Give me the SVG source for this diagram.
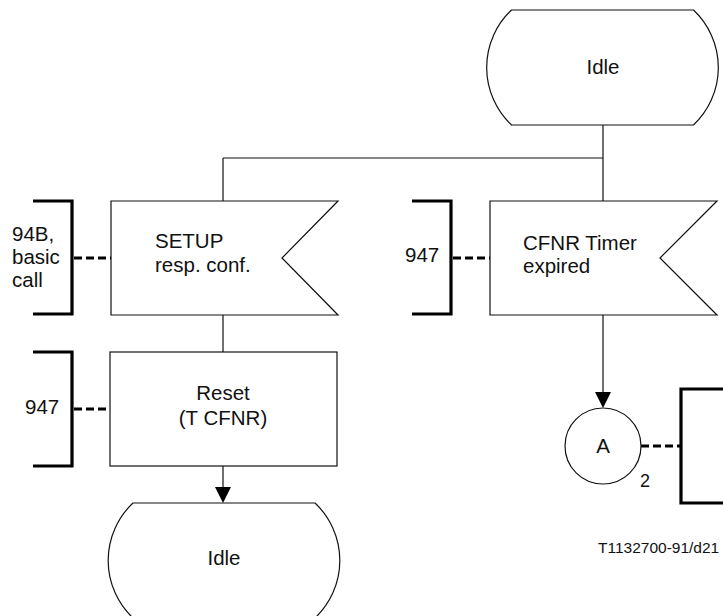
<svg xmlns="http://www.w3.org/2000/svg" width="723" height="616" viewBox="0 0 723 616">
<defs>
<style>
.s{fill:#fff;stroke:#111;stroke-width:1.2}
.ln{fill:none;stroke:#111;stroke-width:1.2}
.br{fill:none;stroke:#000;stroke-width:3.2}
.da{fill:none;stroke:#000;stroke-width:3.2;stroke-dasharray:8 4}
text{font-family:"Liberation Sans",Arial,sans-serif;font-size:20.5px;fill:#111}
.c{text-anchor:middle}
</style>
<path id="state" d="M-91,0 L91,0 A79,79 0 0 1 91,115 L-91,115 A79,79 0 0 1 -91,0 Z"/>
</defs>
<g id="connectors">
<path class="ln" d="M603,125 V158 M223,158 H603 M223,158 V201 M603,158 V201 M223,315 V352"/>
<path class="ln" d="M223,466 V488"/>
<polygon points="215,487 231,487 223,503" fill="#000"/>
<path class="ln" d="M603,315 V393"/>
<polygon points="595,392 611,392 603,408" fill="#000"/>
<path class="da" d="M74,258 H111 M453,258 H490 M74,409 H110 M641,446 H681"/>
</g>
<g id="idle-top">
<use href="#state" class="s" transform="translate(602.5,10)"/>
<text class="c" x="603" y="74">Idle</text>
</g>
<g id="setup">
<path class="s" d="M111,201 H338 L282,258 L338,315 H111 Z"/>
<text x="155" y="248">SETUP</text>
<text x="155" y="272">resp. conf.</text>
</g>
<g id="ref-94b">
<path class="br" d="M33,201 H72 V314 H33"/>
<text x="12" y="241">94B,</text>
<text x="12" y="264">basic</text>
<text x="12" y="287">call</text>
</g>
<g id="cfnr">
<path class="s" d="M490,201 H717 L660,258 L717,315 H490 Z"/>
<text x="523" y="250">CFNR Timer</text>
<text x="523" y="273">expired</text>
</g>
<g id="ref-947a">
<path class="br" d="M412,201 H451 V314 H412"/>
<text x="405" y="262">947</text>
</g>
<g id="reset">
<rect class="s" x="110" y="352" width="227" height="114"/>
<text class="c" x="223" y="400">Reset</text>
<text class="c" x="223" y="425">(T CFNR)</text>
</g>
<g id="ref-947b">
<path class="br" d="M33,352 H72 V466 H33"/>
<text x="25" y="414">947</text>
</g>
<g id="idle-bottom">
<use href="#state" class="s" transform="translate(224,503)"/>
<text class="c" x="224" y="565">Idle</text>
</g>
<g id="connector-a">
<circle class="s" cx="603" cy="446" r="38"/>
<text class="c" x="603" y="453">A</text>
<text x="640" y="487" style="font-size:18px">2</text>
</g>
<g id="ref-a">
<path class="br" d="M725,389 H681 V503 H725"/>
</g>
<g id="footer">
<text x="598" y="553" style="font-size:15.5px">T1132700-91/d21</text>
</g>
</svg>
